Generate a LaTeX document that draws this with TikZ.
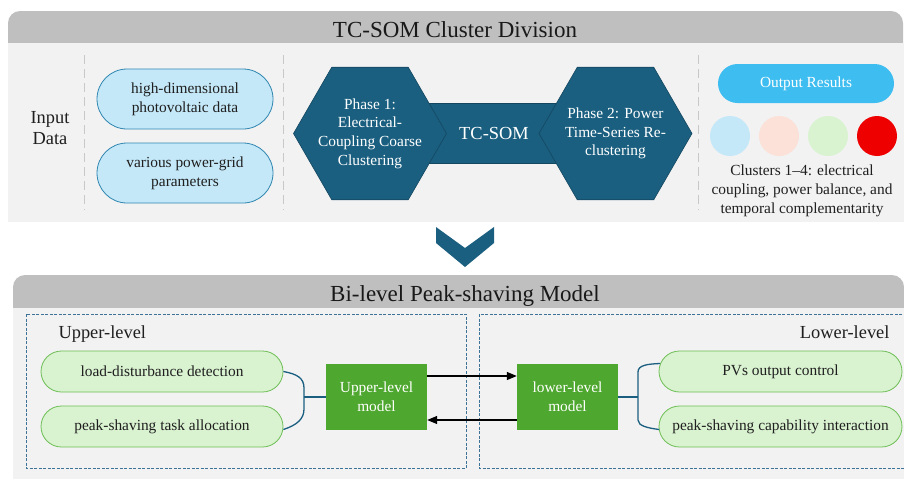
\documentclass[tikz,border=0pt]{standalone}
\usepackage{fontspec}
\setmainfont{Liberation Serif}
\usetikzlibrary{shapes.geometric,arrows.meta}

\definecolor{cabecera}{HTML}{BFBFBF}
\definecolor{fondo}{HTML}{F2F2F2}
\definecolor{azulOscuro}{HTML}{1A5F80}
\definecolor{azulClaro}{HTML}{C4E8F8}
\definecolor{azulBorde}{HTML}{2F86B0}
\definecolor{celeste}{HTML}{3DBDF0}
\definecolor{verdeClaro}{HTML}{D9F2D0}
\definecolor{verdeBorde}{HTML}{6DBE55}
\definecolor{verde}{HTML}{4EA72E}
\definecolor{melocoton}{HTML}{FBE1D7}
\definecolor{rojo}{HTML}{EE0000}
\definecolor{grisLinea}{HTML}{C8C8C8}
\definecolor{marcoAzul}{HTML}{3C7396}

\begin{document}
\begin{tikzpicture}[
    x=1pt, y=-1pt,
    % --- TEXTOS: tamaños tomados del dibujo ---
    letra/.style={font=\fontsize{15.4}{18.7}\selectfont, text=black!88},
    letraGrande/.style={font=\fontsize{18.4}{21}\selectfont, text=black!88},
    titulo/.style={font=\fontsize{23}{27}\selectfont, text=black!90, anchor=base},
    textoBlanco/.style={letra, text=white, align=center},
    % --- PASTILLAS Y CAJAS ---
    pastillaAzul/.style={rectangle, rounded corners=30pt, draw=azulBorde, fill=azulClaro, line width=0.8pt, minimum width=176pt, minimum height=60pt, align=center, letra},
    pastillaVerde/.style={rectangle, rounded corners=20.5pt, draw=verdeBorde, fill=verdeClaro, line width=0.8pt, minimum width=242pt, minimum height=41pt, align=center, letra},
    hexagono/.style={regular polygon, regular polygon sides=6, minimum size=153pt, inner sep=0pt, fill=azulOscuro, draw=azulOscuro!75!black, line width=0.6pt},
    modelo/.style={rectangle, fill=verde, minimum width=101pt, minimum height=66pt, textoBlanco},
    grupo/.style={circle, minimum size=40pt, inner sep=0pt},
    % --- LINEAS ---
    separador/.style={draw=grisLinea, dash pattern=on 9pt off 5pt, line width=0.9pt},
    marco/.style={draw=marcoAzul, dash pattern=on 3pt off 1.5pt, line width=0.8pt},
    llave/.style={draw=azulOscuro, line width=1.3pt},
    flecha/.style={-{Triangle[length=10pt,width=8pt]}, line width=1.2pt, black}
]
    \useasboundingbox (0,0) rectangle (904,479);
    \clip (0,0) rectangle (904,479);

    % --- PANEL SUPERIOR ---
    \fill[cabecera, rounded corners=12pt] (8,11) rectangle (903,60);
    \fill[fondo] (8,43) rectangle (904,222);
    \node[titulo] (tituloSom) at (455,37) {TC-SOM Cluster Division};

    \draw[separador] (84,55) -- (84,210);
    \draw[separador] (283,55) -- (283,210);
    \draw[separador] (698,55) -- (698,210);

    \node[letraGrande, align=center] (entrada) at (50,128) {Input\\Data};
    \node[pastillaAzul] (fotov) at (185,99) {high-dimensional\\photovoltaic data};
    \node[pastillaAzul] (red) at (185,173) {various power-grid\\parameters};

    % banda central y fases
    \node[rectangle, fill=azulOscuro, draw=azulOscuro!75!black, line width=0.6pt,
          minimum width=190pt, minimum height=60pt, textoBlanco, letraGrande, text=white] (som) at (494,133) {TC-SOM};
    \node[hexagono] (fase1) at (370,133.5) {};
    \node[hexagono] (fase2) at (615.5,133.5) {};
    \node[textoBlanco] (texto1) at (fase1) {Phase 1:\\Electrical-\\Coupling Coarse\\Clustering};
    \node[textoBlanco] (texto2) at (fase2) {Phase 2: Power\\Time-Series Re-\\clustering};

    % resultados
    \node[rectangle, rounded corners=19.5pt, fill=celeste, minimum width=176pt, minimum height=39pt, textoBlanco] (salida) at (806,83.5) {Output Results};
    \foreach \i/\x/\c in {1/730/azulClaro, 2/779/melocoton, 3/828/verdeClaro, 4/877/rojo}
        \node[grupo, fill=\c] (grupo\i) at (\x,136) {};
    \node[letra, align=center] (clusters) at (802,191) {Clusters 1\textendash4: electrical\\coupling, power balance, and\\temporal complementarity};

    % --- FLECHA ENTRE PANELES ---
    \fill[azulOscuro] (436,227) -- (465,248) -- (494,227) -- (494,243) -- (465,267) -- (436,243) -- cycle;

    % --- PANEL INFERIOR ---
    \fill[cabecera, rounded corners=12pt] (13,275) rectangle (904,330);
    \fill[fondo] (13,308) rectangle (904,479);
    \node[titulo] (tituloModelo) at (465,301) {Bi-level Peak-shaving Model};

    \draw[marco] (26,314) rectangle (466,468);
    \draw[marco] (479,314) rectangle (910,468);
    \node[letraGrande, anchor=base west] (nivelSup) at (55,338) {Upper-level};
    \node[letraGrande, anchor=base east] (nivelInf) at (893,338) {Lower-level};

    \node[pastillaVerde] (carga) at (162,371.5) {load-disturbance detection};
    \node[pastillaVerde] (tarea) at (162,426.5) {peak-shaving task allocation};
    \node[pastillaVerde, minimum width=243pt] (pvs) at (780.5,371.5) {PVs output control};
    \node[pastillaVerde, minimum width=243pt] (capac) at (780.5,426.5) {peak-shaving capability interaction};

    \node[modelo] (modSup) at (376.5,397) {Upper-level\\model};
    \node[modelo] (modInf) at (567.5,397) {lower-level\\model};

    % llaves
    \coordinate (uniSup) at (304,397);
    \coordinate (uniInf) at (638,397);
    \draw[llave] (carga.east) .. controls (297,374) and (304,378) .. (304,388) -- (304,409)
        .. controls (304,419) and (297,425) .. ([yshift=-3pt]tarea.east);
    \draw[llave] (uniSup) -- (modSup.west);
    \draw[llave] ([shift={(1.5pt,8pt)}]pvs.west) .. controls (648,364) and (638,365) .. (638,372) -- (638,420)
        .. controls (638,426) and (648,428) .. ([shift={(0.5pt,-3pt)}]capac.west);
    \draw[llave] (modInf.east) -- (uniInf);

    % flechas entre niveles
    \draw[flecha] ([yshift=21pt]modSup.east) -- ([yshift=21pt]modInf.west);
    \draw[flecha] ([yshift=-23pt]modInf.west) -- ([yshift=-23pt]modSup.east);

\end{tikzpicture}
\end{document}
